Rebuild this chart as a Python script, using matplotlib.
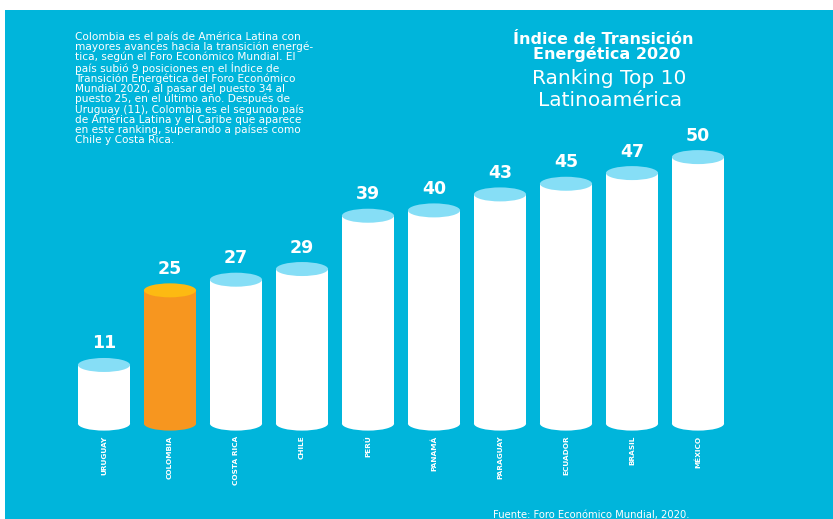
import matplotlib
matplotlib.use("Agg")
import matplotlib.pyplot as plt
from matplotlib.patches import Ellipse, Rectangle

# Ranking data
countries = ["URUGUAY", "COLOMBIA", "COSTA RICA", "CHILE", "PERÚ",
             "PANAMÁ", "PARAGUAY", "ECUADOR", "BRASIL", "MÉXICO"]
ranks = [11, 25, 27, 29, 39, 40, 43, 45, 47, 50]
highlight = "COLOMBIA"

title_lines = ["Índice de Transición", "Energética 2020"]
subtitle_lines = ["Ranking Top 10", "Latinoamérica"]
body_text = ("Colombia es el país de América Latina con\n"
             "mayores avances hacia la transición energé-\n"
             "tica, según el Foro Económico Mundial. El\n"
             "país subió 9 posiciones en el Índice de\n"
             "Transición Energética del Foro Económico\n"
             "Mundial 2020, al pasar del puesto 34 al\n"
             "puesto 25, en el último año. Después de\n"
             "Uruguay (11), Colombia es el segundo país\n"
             "de América Latina y el Caribe que aparece\n"
             "en este ranking, superando a países como\n"
             "Chile y Costa Rica.")
source_text = "Fuente: Foro Económico Mundial, 2020."

BG = "#00B5DB"
BAR = "#FFFFFF"
CAP = "#86DEF6"
HI_BAR = "#F7961F"
HI_CAP = "#FDBA12"

W, H = 833, 519
fig = plt.figure(figsize=(W / 100, H / 100), dpi=100)
fig.patch.set_facecolor("white")
fig.patches.append(Rectangle((5 / W, 0), 1, (H - 10) / H,
                             transform=fig.transFigure, facecolor=BG,
                             edgecolor="none", zorder=-5))

ax = fig.add_axes([0, 0, 1, 1], zorder=1)
ax.patch.set_visible(False)
x0_px, pitch_px = 104, 66
base_px, unit_px = 423.6, 5.33
ax.set_xlim(-x0_px / pitch_px, (W - x0_px) / pitch_px)
ax.set_ylim((base_px - H) / unit_px, base_px / unit_px)
ax.axis("off")

bw = 0.79
cap_h = 14 / unit_px
for i, (name, v) in enumerate(zip(countries, ranks)):
    body = HI_BAR if name == highlight else BAR
    top = HI_CAP if name == highlight else CAP
    ax.bar(i, v, width=bw, bottom=0, color=body, edgecolor="none", zorder=2)
    ax.add_patch(Ellipse((i, 0), bw, cap_h, facecolor=body,
                         edgecolor="none", zorder=2))
    ax.add_patch(Ellipse((i, v), bw, cap_h, facecolor=top,
                         edgecolor="none", zorder=3))
    ax.annotate(str(v), (i, v), xytext=(0, 15.5), textcoords="offset points",
                ha="center", va="center", color="white", fontsize=12.5,
                fontweight="bold", family="DejaVu Sans", zorder=4)
    ax.annotate(name, (i, 0), xytext=(0, -8.5), textcoords="offset points",
                ha="center", va="top", rotation=90, color="white",
                fontsize=5.3, fontweight="bold",
                family=["Liberation Sans Narrow", "DejaVu Sans"], zorder=4)

# Text blocks
fig.text(75 / W, 1 - 31 / H, body_text, ha="left", va="top", color="white",
         fontsize=7.6, linespacing=0.98, family="DejaVu Sans")
fig.text(603 / W, 1 - 39 / H, title_lines[0], ha="center", va="center",
         color="white", fontsize=11.5, fontweight="bold", family="DejaVu Sans")
fig.text(607 / W, 1 - 54 / H, title_lines[1], ha="center", va="center",
         color="white", fontsize=11.5, fontweight="bold", family="DejaVu Sans")
fig.text(609 / W, 1 - 79 / H, subtitle_lines[0], ha="center", va="center",
         color="white", fontsize=14.5, family="DejaVu Sans")
fig.text(610 / W, 1 - 100 / H, subtitle_lines[1], ha="center", va="center",
         color="white", fontsize=14.5, family="DejaVu Sans")
fig.text(591 / W, 1 - 515 / H, source_text, ha="center", va="center",
         color="white", fontsize=7.2, family="DejaVu Sans")

fig.savefig("out.png", dpi=100, facecolor=fig.get_facecolor())
